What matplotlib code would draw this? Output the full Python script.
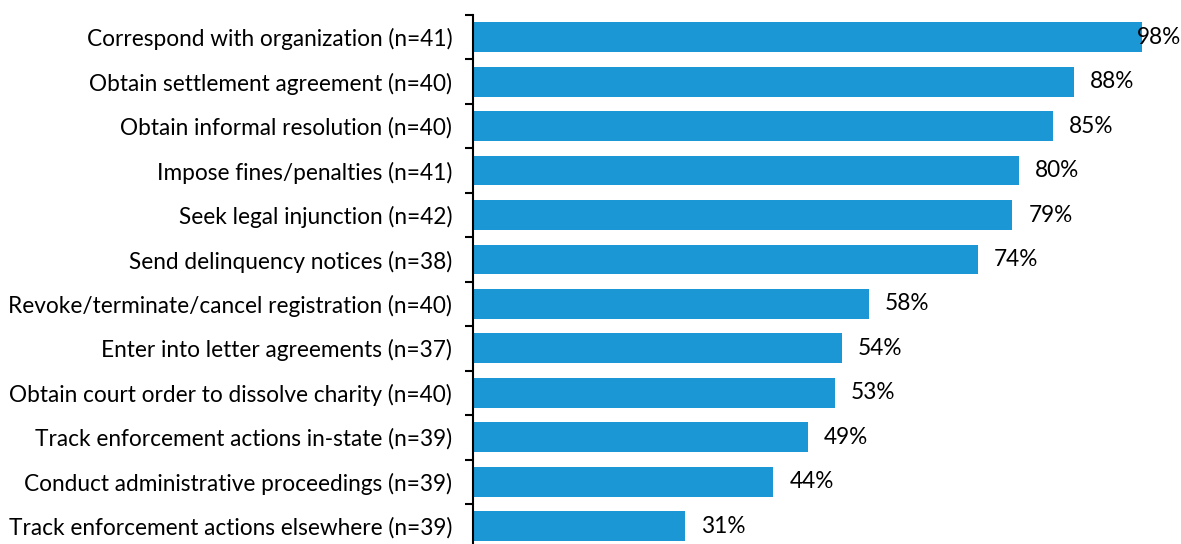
import matplotlib
matplotlib.use('Agg')

import numpy as np
import matplotlib.pyplot as plt

plt.rcParams['font.family'] = ['Lato', 'DejaVu Sans']

# Enforcement actions, share of respondents (%)
labels = [
    'Correspond with organization (n=41)',
    'Obtain settlement agreement (n=40)',
    'Obtain informal resolution (n=40)',
    'Impose fines/penalties (n=41)',
    'Seek legal injunction (n=42)',
    'Send delinquency notices (n=38)',
    'Revoke/terminate/cancel registration (n=40)',
    'Enter into letter agreements (n=37)',
    'Obtain court order to dissolve charity (n=40)',
    'Track enforcement actions in-state (n=39)',
    'Conduct administrative proceedings (n=39)',
    'Track enforcement actions elsewhere (n=39)',
]
values = [98, 88, 85, 80, 79, 74, 58, 54, 53, 49, 44, 31]

fig = plt.figure(figsize=(11.81, 5.44), dpi=100)
# axes runs a little past the bottom edge (chart is cropped there)
top_px, bot_px = 15, 548.4
ax = fig.add_axes([473 / 1181, 1 - bot_px / 544, 1 - 473 / 1181, (bot_px - top_px) / 544])

y = np.arange(len(values))
ax.barh(y, values, height=0.67, color='#1A97D4')

xmax = (1181 - 473) / (669 / 98)
ax.set_xlim(0, xmax)
ax.set_ylim(len(values) - 0.5, -0.5)

# value labels
fs = 16.3
for yi, v in zip(y, values):
    if v > 95:
        ax.text(xmax, yi, f'{v}%', ha='right', va='center', fontsize=fs)
    else:
        ax.annotate(f'{v}%', (v, yi), xytext=(11.5, 0), textcoords='offset points',
                    ha='left', va='center', fontsize=fs)

ax.set_yticks(y)
ax.set_yticklabels(labels, fontsize=fs)
ax.set_yticks(np.arange(-0.5, len(values), 1), minor=True)
ax.tick_params(axis='y', which='major', length=0, pad=15)
ax.tick_params(axis='y', which='minor', length=6, width=1.5, color='black')
ax.set_xticks([])

for s in ['top', 'right', 'bottom']:
    ax.spines[s].set_visible(False)
ax.spines['left'].set_linewidth(1.5)

fig.savefig('out.png', dpi=100)
